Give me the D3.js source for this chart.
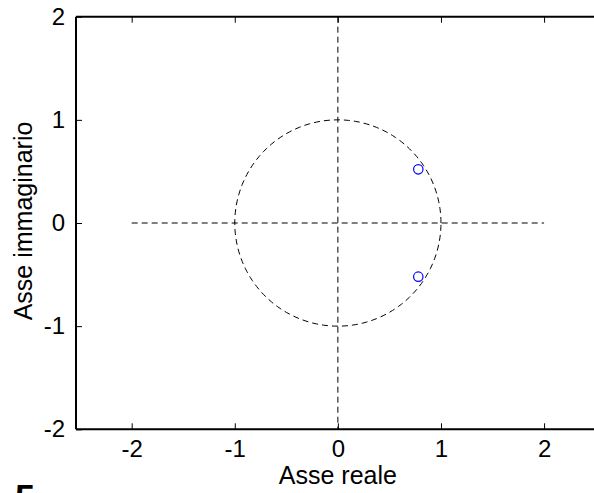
<!DOCTYPE html>
<html>
<head>
<meta charset="utf-8">
<script src="https://cdn.jsdelivr.net/npm/d3@7"></script>
<style>
  html, body { margin: 0; padding: 0; background: #fff; }
  svg { display: block; }
  text { font-family: "Liberation Sans", Arial, sans-serif; }
</style>
</head>
<body>
<svg id="chart" width="594" height="493"></svg>
<script>
// Pole-zero plot: poles on the complex plane against the unit circle
const xTicks = [-2, -1, 0, 1, 2];
const yTicks = [-2, -1, 0, 1, 2];
const poleRe = [0.78, 0.78];
const poleIm = [0.52, -0.52];
const xLimits = [-2.54, 2.54];
const yLimits = [-2, 2];
const xLabel = "Asse reale";
const yLabel = "Asse immaginario";
const pageNumber = "5";

const svg = d3.select("#chart");
const plotLeft = 76, plotTop = 16.7, plotBottom = 429.3;
const unit = 103.1;
const plotRight = plotLeft + (xLimits[1] - xLimits[0]) * unit;

const x = d3.scaleLinear().domain(xLimits).range([plotLeft, plotRight]);
const y = d3.scaleLinear().domain(yLimits).range([plotBottom, plotTop]);

const g = svg.append("g");

// dashed reference lines: real axis, imaginary axis, unit circle
const dash = "6,4";
g.append("line")
  .attr("x1", x(-2)).attr("x2", x(2))
  .attr("y1", y(0)).attr("y2", y(0))
  .attr("stroke", "#000").attr("stroke-width", 1).attr("stroke-dasharray", dash);
g.append("line")
  .attr("x1", x(0)).attr("x2", x(0))
  .attr("y1", y(2)).attr("y2", y(-2))
  .attr("stroke", "#000").attr("stroke-width", 1).attr("stroke-dasharray", dash);
const circ = d3.range(0, 361, 2).map(a => [Math.cos(a * Math.PI / 180), Math.sin(a * Math.PI / 180)]);
g.append("path")
  .attr("d", d3.line().x(d => x(d[0])).y(d => y(d[1]))(circ))
  .attr("fill", "none").attr("stroke", "#000").attr("stroke-width", 1)
  .attr("stroke-dasharray", dash);

// poles
g.selectAll("circle.pole")
  .data(poleRe.map((r, i) => [r, poleIm[i]]))
  .join("circle")
  .attr("class", "pole")
  .attr("cx", d => x(d[0])).attr("cy", d => y(d[1]))
  .attr("r", 4.7)
  .attr("fill", "none").attr("stroke", "#0000ff").attr("stroke-width", 1.2);

// axes box with inward ticks; plain hyphen for negative labels
const tickLen = 6;
const fmt = d => String(d);
const axBottom = d3.axisBottom(x).tickValues(xTicks).tickSize(-tickLen).tickPadding(11).tickFormat(fmt);
const axTop = d3.axisTop(x).tickValues(xTicks).tickSize(-tickLen).tickFormat("");
const axLeft = d3.axisLeft(y).tickValues(yTicks).tickSize(-tickLen).tickPadding(11).tickFormat(fmt);

function styleAxis(sel) {
  sel.select(".domain").attr("stroke", "#000").attr("stroke-width", 2);
  sel.selectAll(".tick line").attr("stroke", "#000").attr("stroke-width", 1);
  sel.selectAll(".tick text").attr("fill", "#000").attr("font-size", 24)
    .attr("font-family", "Liberation Sans, Arial, sans-serif");
}
svg.append("g").attr("transform", `translate(0,${plotBottom})`).call(axBottom).call(styleAxis)
  .call(s => s.select(".domain").attr("d", `M${plotLeft},0H${plotRight}`));
svg.append("g").attr("transform", `translate(0,${plotTop})`).call(axTop).call(styleAxis)
  .call(s => s.select(".domain").attr("d", `M${plotLeft},0H${plotRight}`));
svg.append("g").attr("transform", `translate(${plotLeft},0)`).call(axLeft).call(styleAxis)
  .call(s => s.select(".domain").attr("d", `M0,${plotTop}V${plotBottom}`));

// axis titles
svg.append("text")
  .attr("x", x(0)).attr("y", 484)
  .attr("text-anchor", "middle").attr("font-size", 25).attr("fill", "#000")
  .text(xLabel);
svg.append("text")
  .attr("transform", `translate(32,${y(0) - 2}) rotate(-90)`)
  .attr("text-anchor", "middle").attr("font-size", 25).attr("fill", "#000")
  .text(yLabel);

// page number below the figure
svg.append("text")
  .attr("x", 15).attr("y", 511)
  .attr("font-size", 36).attr("font-weight", "bold").attr("fill", "#000")
  .text(pageNumber);
</script>
</body>
</html>
